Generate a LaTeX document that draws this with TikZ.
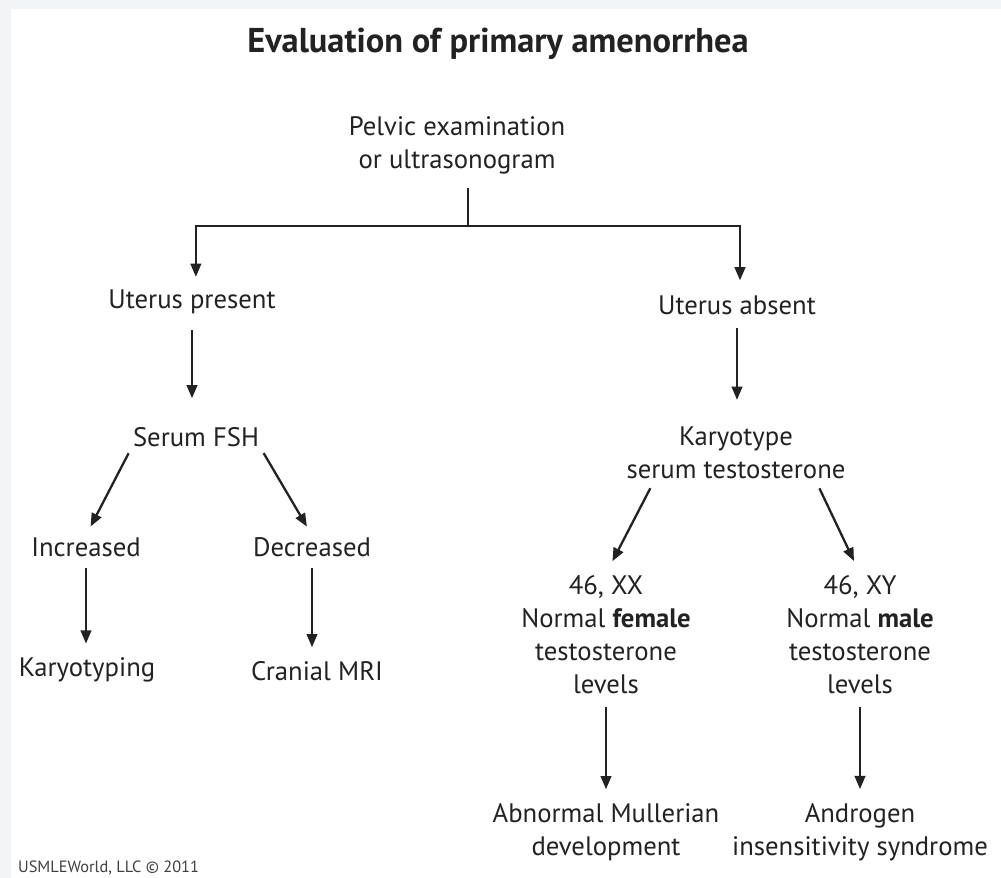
\documentclass[tikz,border=0pt]{standalone}
\usepackage{fontspec}
\setmainfont{PT Sans}
\usetikzlibrary{positioning,arrows.meta}
\definecolor{inkgray}{HTML}{222222}
\definecolor{framegray}{HTML}{F3F4F6}

\begin{document}
\begin{tikzpicture}[
    x=0.02cm, y=-0.02cm,
    >={Triangle[length=7.5pt,width=6pt]},
    every node/.style={font=\fontsize{15.2}{18.8}\selectfont,
                       align=center, inner sep=1pt, text=inkgray},
    arr/.style={->, draw=inkgray, line width=1.3pt},
    ln/.style={draw=inkgray, line width=1.3pt}
  ]
  % page and frame
  \useasboundingbox (0,0) rectangle (1001,878);
  \fill[white] (0,0) rectangle (1001,878);
  \fill[framegray] (0,0) rectangle (1001,9);
  \fill[framegray] (0,0) rectangle (11,878);

  \node[font=\bfseries\fontsize{19.6}{22}\selectfont] (title) at (498,44) {Evaluation of primary amenorrhea};
  \node (pelvic) at (457,145) {Pelvic examination\\or ultrasonogram};
  \coordinate (fork) at (468,226);
  \node (upres)  at (192,302) {Uterus present};
  \node (upabs)  at (737,305) {Uterus absent};
  \node (fsh)    at (196,437) {Serum FSH};
  \node (karyo)  at (736,453) {Karyotype\\serum testosterone};
  \node (incr)   at (86,547)  {Increased};
  \node (decr)   at (312,547) {Decreased};
  \node (ktyp)   at (87,670)  {Karyotyping};
  \node (mri)    at (317,671) {Cranial MRI};
  \node (xx)     at (606,635) {46, XX\\Normal \textbf{female}\\testosterone\\levels};
  \node (xy)     at (860,635) {46, XY\\Normal \textbf{male}\\testosterone\\levels};
  \node (abn)    at (606,832) {Abnormal Mullerian\\development};
  \node (andr)   at (860,832) {Androgen\\insensitivity syndrome};
  \node[anchor=west, font=\fontsize{9.3}{10}\selectfont, text=black!75] (credit) at (16,868) {USMLEWorld, LLC \textcopyright{} 2011};

  \draw[ln, shorten <=0.24cm] (pelvic.south -| fork) -- (fork);
  \draw[arr, shorten >=0.22cm] (fork) -| ([xshift=2.2pt]upres.north);
  \draw[arr, shorten >=0.26cm] (fork) -| ([xshift=1.7pt]upabs.north);
  \draw[arr, shorten <=0.28cm, shorten >=0.54cm] (upres) -- (upres |- fsh.north);
  \draw[arr, shorten <=0.22cm, shorten >=0.50cm] (upabs) -- (upabs |- karyo.north);
  \draw[arr, shorten <=0.10cm, shorten >=0.20cm] (fsh.south west) -- (incr.north);
  \draw[arr, shorten <=0.10cm, shorten >=0.20cm] (fsh.south east) -- (decr.north);
  \draw[arr, shorten <=0.18cm, shorten >=0.24cm] (incr) -- (incr |- ktyp.north);
  \draw[arr, shorten <=0.18cm, shorten >=0.24cm] (decr) -- (decr |- mri.north);
  \draw[arr, shorten <=0.16cm, shorten >=0.28cm] ([shift={(-82,0)}]karyo.south) -- (xx.north);
  \draw[arr, shorten <=0.16cm, shorten >=0.28cm] ([shift={(80,0)}]karyo.south) -- (xy.north);
  \draw[arr, shorten <=0.22cm, shorten >=0.24cm] (xx) -- (abn);
  \draw[arr, shorten <=0.22cm, shorten >=0.24cm] (xy) -- (andr);
\end{tikzpicture}
\end{document}
